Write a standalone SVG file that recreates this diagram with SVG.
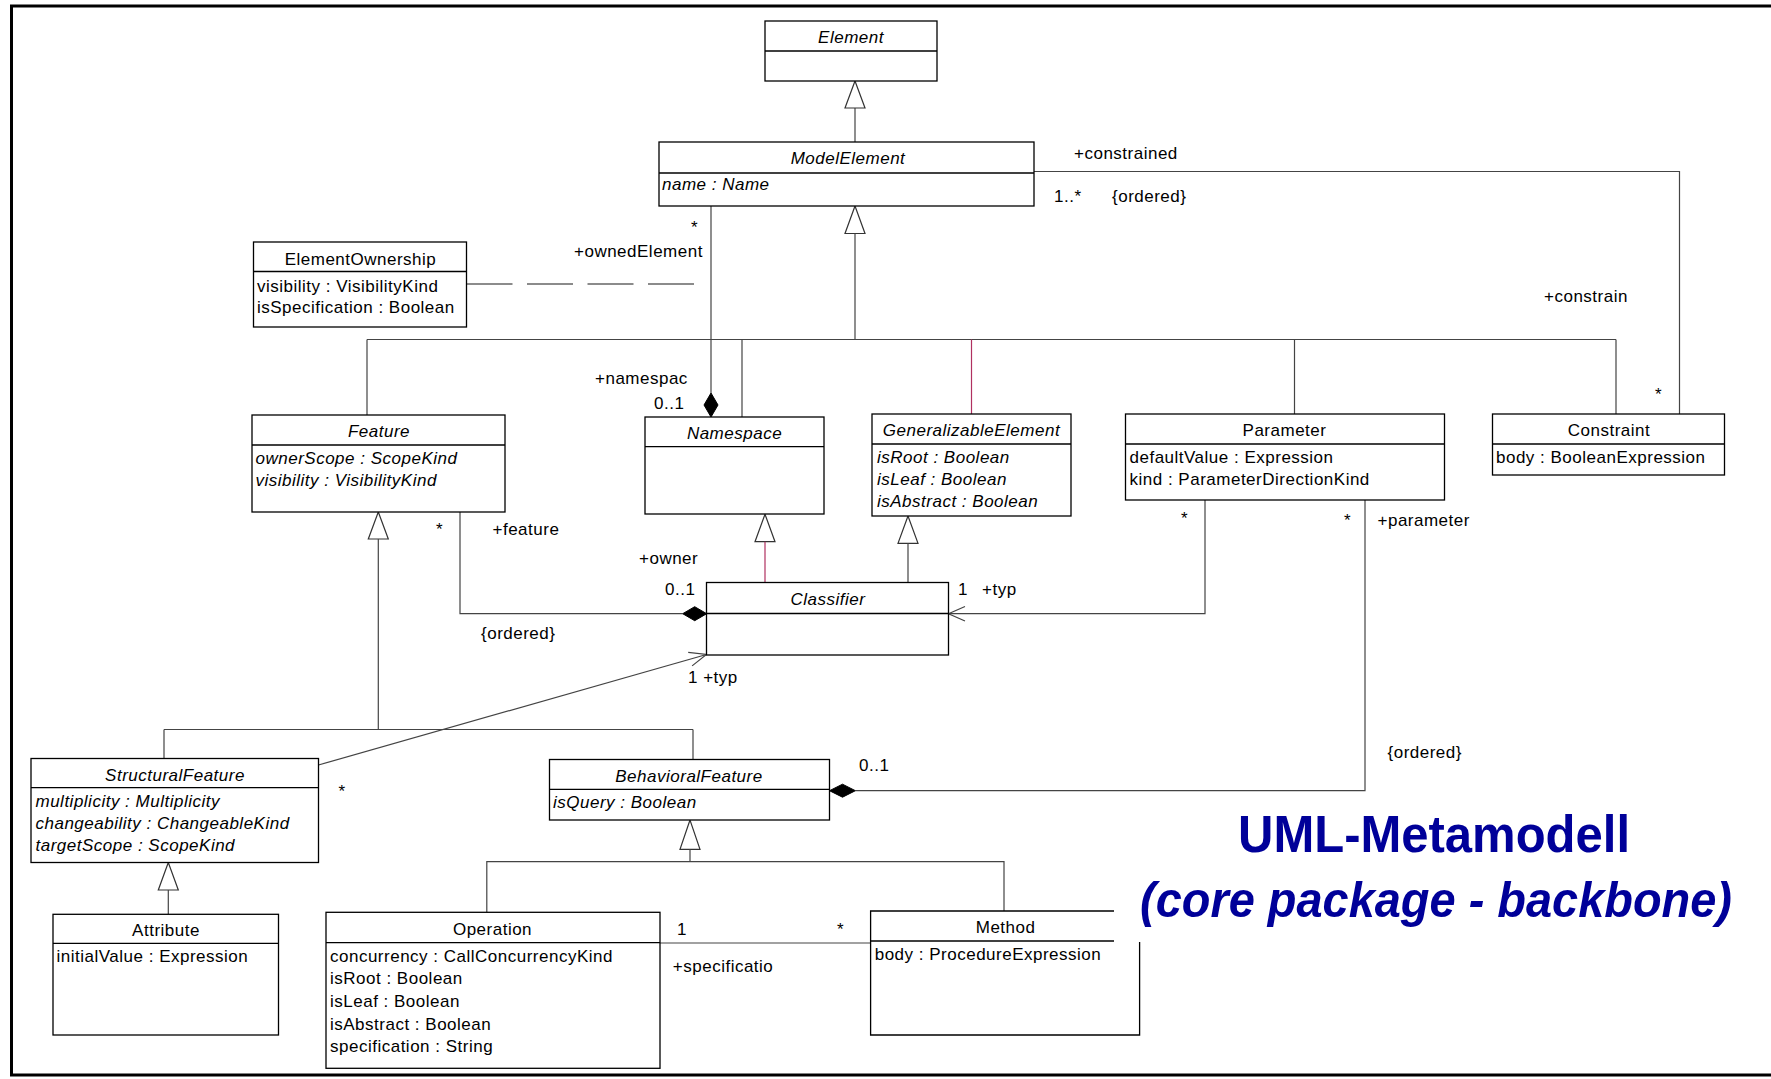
<svg xmlns="http://www.w3.org/2000/svg" width="1771" height="1079" viewBox="0 0 1771 1079">
  <style>
    .box { fill: #fff; stroke: #000; stroke-width: 1.3; }
    .edge { fill: none; stroke: #000; stroke-width: 1.3; }
    .sep { stroke: #000; stroke-width: 1.3; }
    .t { font-family: "Liberation Sans", Arial, sans-serif; font-size: 17px; letter-spacing: 0.5px; fill: #000; }
    .i { font-style: italic; }
    .c { text-anchor: middle; }
    .ln { fill: none; stroke: #444; stroke-width: 1.2; }
    .red { stroke: #b03060; }
    .tri { fill: #fff; stroke: #333; stroke-width: 1.2; }
    .dia { fill: #000; stroke: #000; stroke-width: 1; }
    .dash { fill: none; stroke: #666; stroke-width: 1.6; stroke-dasharray: 46 14.5; }
    .title { font-family: "Liberation Sans", Arial, sans-serif; font-weight: bold; fill: #000099; }
  </style>

  <rect x="0" y="0" width="1771" height="1079" fill="#fff"/>
  <!-- page frame -->
  <path d="M1771,6 H11.5 V1075 H1771" fill="none" stroke="#000" stroke-width="3"/>

  <!-- connectors -->
  <g id="connectors">
    <!-- Element <- ModelElement -->
    <line class="ln" x1="855" y1="108" x2="855" y2="142"/>
    <polygon class="tri" points="855,81 845,108 865,108"/>
    <!-- ModelElement <- subclasses (bus) -->
    <polygon class="tri" points="855,206 845,233.5 865,233.5"/>
    <line class="ln" x1="855" y1="233.5" x2="855" y2="339.5"/>
    <line class="ln" x1="367" y1="339.5" x2="1616" y2="339.5"/>
    <line class="ln" x1="367" y1="339.5" x2="367" y2="415"/>
    <line class="ln" x1="742" y1="339.5" x2="742" y2="417"/>
    <line class="ln red" x1="971.5" y1="339.5" x2="971.5" y2="414"/>
    <line class="ln" x1="1294.5" y1="339.5" x2="1294.5" y2="414"/>
    <line class="ln" x1="1616" y1="339.5" x2="1616" y2="414"/>

    <!-- constrained / constrain association -->
    <polyline class="ln" points="1034,171.5 1679.5,171.5 1679.5,414"/>

    <!-- ownedElement / namespace composition -->
    <line class="ln" x1="711" y1="206" x2="711" y2="393"/>
    <polygon class="dia" points="711,393 718,405 711,417 704,405"/>
    <!-- association class link -->
    <line class="dash" x1="466.5" y1="284" x2="698" y2="284"/>

    <!-- feature / owner composition -->
    <polyline class="ln" points="460,512 460,613.7 682.7,613.7"/>
    <polygon class="dia" points="682.7,613.7 694.7,606.7 706.7,613.7 694.7,620.7"/>

    <!-- Feature <- StructuralFeature, BehavioralFeature -->
    <polygon class="tri" points="378.3,512 368.3,539 388.3,539"/>
    <line class="ln" x1="378.3" y1="539" x2="378.3" y2="729.5"/>
    <line class="ln" x1="164" y1="729.5" x2="693" y2="729.5"/>
    <line class="ln" x1="164" y1="729.5" x2="164" y2="758.5"/>
    <line class="ln" x1="693" y1="729.5" x2="693" y2="759.5"/>

    <!-- Namespace <- Classifier -->
    <polygon class="tri red" points="765,514.3 755,541.7 775,541.7"/>
    <line class="ln red" x1="765" y1="541.7" x2="765" y2="582.5"/>
    <!-- GeneralizableElement <- Classifier -->
    <polygon class="tri" points="908,516 898,543.3 918,543.3"/>
    <line class="ln" x1="908" y1="543.3" x2="908" y2="582.5"/>

    <!-- Parameter -> Classifier (type) -->
    <polyline class="ln" points="1205,500 1205,613.7 948.5,613.7"/>
    <polyline class="ln" points="965,606.5 948.5,613.7 965,621"/>

    <!-- StructuralFeature -> Classifier (type) -->
    <line class="ln" x1="318.5" y1="765" x2="706.5" y2="654.5"/>
    <polyline class="ln" points="688.2,652.4 706.5,654.5 692.1,665.9"/>

    <!-- parameter composition -->
    <polyline class="ln" points="1365,500 1365,790.7 855.4,790.7"/>
    <polygon class="dia" points="829.5,790.7 842.5,784.2 855.4,790.7 842.5,797.2"/>

    <!-- StructuralFeature <- Attribute -->
    <polygon class="tri" points="168.3,862.5 158.3,890 178.3,890"/>
    <line class="ln" x1="168.3" y1="890" x2="168.3" y2="914.3"/>

    <!-- BehavioralFeature <- Operation, Method -->
    <polygon class="tri" points="690,820 680,849.3 700,849.3"/>
    <line class="ln" x1="690" y1="849.3" x2="690" y2="861.7"/>
    <polyline class="ln" points="486.8,912.3 486.8,861.7 1004,861.7 1004,911"/>

    <!-- Operation - Method specification -->
    <line class="ln" x1="660" y1="943" x2="870.6" y2="943"/>
  </g>

  <!-- connector labels -->
  <g id="labels">
    <text class="t" x="1074" y="158.5">+constrained</text>
    <text class="t" x="1054" y="202">1..*</text>
    <text class="t" x="1112" y="202">{ordered}</text>
    <text class="t" x="691" y="233">*</text>
    <text class="t" x="574" y="257">+ownedElement</text>
    <text class="t" x="1544" y="302">+constrain</text>
    <text class="t" x="595" y="384">+namespac</text>
    <text class="t" x="654" y="409">0..1</text>
    <text class="t" x="1655" y="400">*</text>
    <text class="t" x="436" y="535">*</text>
    <text class="t" x="492.5" y="535">+feature</text>
    <text class="t" x="639" y="564">+owner</text>
    <text class="t" x="665" y="595">0..1</text>
    <text class="t" x="481" y="639">{ordered}</text>
    <text class="t" x="958" y="595">1</text>
    <text class="t" x="982" y="595">+typ</text>
    <text class="t" x="688" y="683">1  +typ</text>
    <text class="t" x="1181" y="524">*</text>
    <text class="t" x="1344" y="526">*</text>
    <text class="t" x="1377.5" y="526">+parameter</text>
    <text class="t" x="338.5" y="797">*</text>
    <text class="t" x="859" y="771">0..1</text>
    <text class="t" x="1387.5" y="758">{ordered}</text>
    <text class="t" x="677" y="935">1</text>
    <text class="t" x="837" y="935">*</text>
    <text class="t" x="672.8" y="972">+specificatio</text>
  </g>

  <!-- classes -->
  <g id="Element">
    <rect class="box" x="765" y="21" width="172" height="60"/>
    <line class="sep" x1="765" y1="51" x2="937" y2="51"/>
    <text class="t i c" x="851" y="43">Element</text>
  </g>

  <g id="ModelElement">
    <rect class="box" x="659" y="142" width="375" height="64"/>
    <line class="sep" x1="659" y1="173" x2="1034" y2="173"/>
    <text class="t i c" x="848" y="164">ModelElement</text>
    <text class="t i" x="662" y="190">name : Name</text>
  </g>

  <g id="ElementOwnership">
    <rect class="box" x="253.5" y="242" width="213" height="85"/>
    <line class="sep" x1="253.5" y1="271.5" x2="466.5" y2="271.5"/>
    <text class="t c" x="360.5" y="264.5">ElementOwnership</text>
    <text class="t" x="257" y="291.5">visibility : VisibilityKind</text>
    <text class="t" x="257" y="312.5">isSpecification : Boolean</text>
  </g>

  <g id="Feature">
    <rect class="box" x="252" y="415" width="253" height="97"/>
    <line class="sep" x1="252" y1="445" x2="505" y2="445"/>
    <text class="t i c" x="379" y="437">Feature</text>
    <text class="t i" x="255.5" y="464">ownerScope : ScopeKind</text>
    <text class="t i" x="255.5" y="486">visibility : VisibilityKind</text>
  </g>

  <g id="Namespace">
    <rect class="box" x="645" y="417" width="179" height="97"/>
    <line class="sep" x1="645" y1="446.7" x2="824" y2="446.7"/>
    <text class="t i c" x="734.5" y="439">Namespace</text>
  </g>

  <g id="GeneralizableElement">
    <rect class="box" x="872" y="414" width="199" height="102"/>
    <line class="sep" x1="872" y1="444" x2="1071" y2="444"/>
    <text class="t i c" x="971.5" y="436">GeneralizableElement</text>
    <text class="t i" x="877" y="463">isRoot : Boolean</text>
    <text class="t i" x="877" y="485">isLeaf : Boolean</text>
    <text class="t i" x="877" y="507">isAbstract : Boolean</text>
  </g>

  <g id="Parameter">
    <rect class="box" x="1125.5" y="414" width="319" height="86"/>
    <line class="sep" x1="1125.5" y1="444" x2="1444.5" y2="444"/>
    <text class="t c" x="1284.5" y="436">Parameter</text>
    <text class="t" x="1129.5" y="463">defaultValue : Expression</text>
    <text class="t" x="1129.5" y="485">kind : ParameterDirectionKind</text>
  </g>

  <g id="Constraint">
    <rect class="box" x="1492.5" y="414" width="232" height="61"/>
    <line class="sep" x1="1492.5" y1="444" x2="1724.5" y2="444"/>
    <text class="t c" x="1609" y="436">Constraint</text>
    <text class="t" x="1496" y="463">body : BooleanExpression</text>
  </g>

  <g id="Classifier">
    <rect class="box" x="706.5" y="582.5" width="242" height="72.5"/>
    <line class="sep" x1="706.5" y1="613.5" x2="948.5" y2="613.5"/>
    <text class="t i c" x="828" y="604.5">Classifier</text>
  </g>

  <g id="StructuralFeature">
    <rect class="box" x="31" y="758.5" width="287.5" height="104"/>
    <line class="sep" x1="31" y1="787.7" x2="318.5" y2="787.7"/>
    <text class="t i c" x="175" y="780.5">StructuralFeature</text>
    <text class="t i" x="35.5" y="806.5">multiplicity : Multiplicity</text>
    <text class="t i" x="35.5" y="828.5">changeability : ChangeableKind</text>
    <text class="t i" x="35.5" y="850.5">targetScope : ScopeKind</text>
  </g>

  <g id="BehavioralFeature">
    <rect class="box" x="549.5" y="759.5" width="280" height="60.5"/>
    <line class="sep" x1="549.5" y1="789.3" x2="829.5" y2="789.3"/>
    <text class="t i c" x="689" y="781.5">BehavioralFeature</text>
    <text class="t i" x="553" y="808">isQuery : Boolean</text>
  </g>

  <g id="Attribute">
    <rect class="box" x="53" y="914.3" width="225.5" height="120.7"/>
    <line class="sep" x1="53" y1="943.3" x2="278.5" y2="943.3"/>
    <text class="t c" x="166" y="936.3">Attribute</text>
    <text class="t" x="56.5" y="962">initialValue : Expression</text>
  </g>

  <g id="Operation">
    <rect class="box" x="326" y="912.3" width="334" height="156"/>
    <line class="sep" x1="326" y1="942.7" x2="660" y2="942.7"/>
    <text class="t c" x="492.5" y="935">Operation</text>
    <text class="t" x="330" y="961.7">concurrency : CallConcurrencyKind</text>
    <text class="t" x="330" y="984.3">isRoot : Boolean</text>
    <text class="t" x="330" y="1007">isLeaf : Boolean</text>
    <text class="t" x="330" y="1029.5">isAbstract : Boolean</text>
    <text class="t" x="330" y="1052.3">specification : String</text>
  </g>

  <!-- Method: top-right corner left open where the title sits -->
  <g id="Method">
    <rect x="870.6" y="911" width="269" height="124" fill="#fff"/>
    <path class="edge" d="M1114,911 H870.6 V1035 H1139.6 V942"/>
    <line class="sep" x1="870.6" y1="941" x2="1114" y2="941"/>
    <text class="t c" x="1005.6" y="933">Method</text>
    <text class="t" x="874.7" y="960">body : ProcedureExpression</text>
  </g>

  <g id="title">
    <text class="title" x="1238" y="852" font-size="52" textLength="392" lengthAdjust="spacingAndGlyphs">UML-Metamodell</text>
    <text class="title" x="1140" y="917" font-size="49.5" font-style="italic" textLength="592" lengthAdjust="spacingAndGlyphs">(core package - backbone)</text>
  </g>
</svg>
